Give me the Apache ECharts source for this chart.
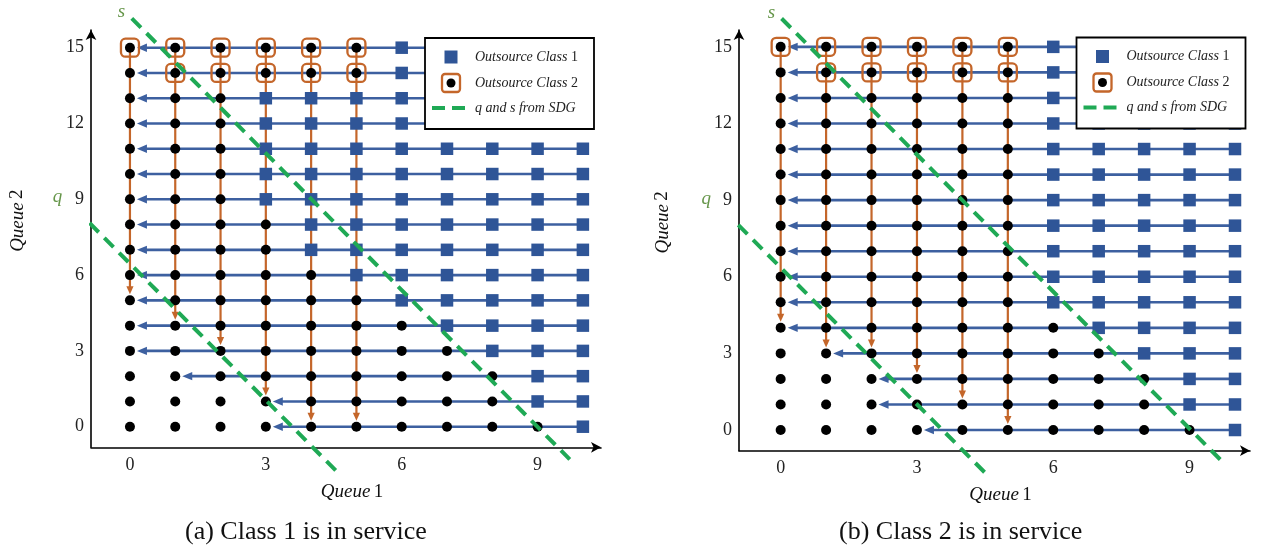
<!DOCTYPE html>
<html>
<head>
<meta charset="utf-8">
<script src="https://cdn.jsdelivr.net/npm/echarts@6/dist/echarts.min.js"></script>
<style>html,body{margin:0;padding:0;background:#fff}#chart{width:1264px;height:550px}</style>
</head>
<body>
<div id="chart"></div>
<script>
// ================= DATA =================
const queue1 = [0, 1, 2, 3, 4, 5, 6, 7, 8, 9, 10];
const queue2 = [0, 1, 2, 3, 4, 5, 6, 7, 8, 9, 10, 11, 12, 13, 14, 15];
const xTicks = [0, 3, 6, 9];
const yTicks = [0, 3, 6, 9, 12, 15];
const captions = ['(a) Class 1 is in service', '(b) Class 2 is in service'];
const legendNames = ['Outsource Class 1', 'Outsource Class 2', 'q and s from SDG'];

// Panel (a) — Class 1 in service
// per Queue 2 row (0..15): first Queue 1 value where Class 1 is outsourced
const class1FromA = [10, 9, 9, 8, 7, 6, 5, 4, 4, 3, 3, 3, 3, 3, 6, 6];
// states where Class 2 is outsourced [q1, q2]
const class2A = [[0,15],[1,15],[2,15],[3,15],[4,15],[5,15],[1,14],[2,14],[3,14],[4,14],[5,14]];
// horizontal (blue) transitions per row: from Queue1 = 10 to this value
const leftArrowEndA = [3, 3, 1, 0, 0, 0, 0, 0, 0, 0, 0, 0, 0, 0, 0, 0];
// vertical (orange) transitions: columns and their end rows (start at 15)
const downArrowColsA = [0, 1, 2, 3, 4, 5];
const downArrowEndA = [5, 4, 3, 1, 0, 0];
const sLineA = [[0.04, 16.16], [9.71, -1.29]];
const qLineA = [[-1.22, 8.65], [4.57, -1.78]];

// Panel (b) — Class 2 in service
const class1FromB = [10, 9, 9, 8, 7, 6, 6, 6, 6, 6, 6, 6, 6, 6, 6, 6];
const class2B = [[0,15],[1,15],[2,15],[3,15],[4,15],[5,15],[1,14],[2,14],[3,14],[4,14],[5,14]];
const leftArrowEndB = [3, 2, 2, 1, 0, 0, 0, 0, 0, 0, 0, 0, 0, 0, 0, 0];
const downArrowColsB = [0, 1, 2, 3, 4, 5];
const downArrowEndB = [4, 3, 3, 2, 1, 0];
const sLineB = [[0.02, 16.11], [9.70, -1.20]];
const qLineB = [[-1.26, 8.61], [4.57, -1.80]];

// ================= STYLE =================
const SERIF = 'Liberation Serif';
const C_BLUE_SQ = '#2F5597';
const C_BLUE_LN = '#3D60A0';
const C_ORANGE = '#C4662A';
const C_GREEN = '#1FA955';
const C_LABEL = '#66964A';

function pointsOf(class1From) {
  const dots = [], squares = [];
  queue2.forEach(y => queue1.forEach(x => {
    (x >= class1From[y] ? squares : dots).push([x, y]);
  }));
  return { dots, squares };
}
function hArrows(leftEnd) {
  return queue2.map(y => [queue1[queue1.length - 1], y, leftEnd[y], y]);
}
function vArrows(cols, ends) {
  const top = queue2[queue2.length - 1];
  return cols.map((x, i) => [x, top, x, ends[i]]);
}

function arrowSeries(items, gi, color, width, gap, head, hw, z) {
  return {
    type: 'custom', xAxisIndex: gi, yAxisIndex: gi, z: z, silent: true,
    data: items,
    renderItem: function (params, api) {
      const p1 = api.coord([api.value(0), api.value(1)]);
      const p2 = api.coord([api.value(2), api.value(3)]);
      const dx = p2[0] - p1[0], dy = p2[1] - p1[1];
      const L = Math.hypot(dx, dy) || 1;
      const ux = dx / L, uy = dy / L;
      const tip = [p2[0] - ux * gap, p2[1] - uy * gap];
      const base = [tip[0] - ux * head, tip[1] - uy * head];
      return {
        type: 'group',
        children: [
          { type: 'line', shape: { x1: p1[0], y1: p1[1], x2: base[0] + ux * 2, y2: base[1] + uy * 2 },
            style: { stroke: color, lineWidth: width } },
          { type: 'polygon',
            shape: { points: [tip, [base[0] - uy * hw, base[1] + ux * hw], [base[0] + uy * hw, base[1] - ux * hw]] },
            style: { fill: color } }
        ]
      };
    }
  };
}

function sdgSeries(pts, name, gi, dist, off) {
  return {
    type: 'line', xAxisIndex: gi, yAxisIndex: gi, data: pts, clip: false, z: 8, silent: true,
    symbol: 'circle', symbolSize: 1, showSymbol: true,
    itemStyle: { color: 'rgba(0,0,0,0)' },
    lineStyle: { color: C_GREEN, width: 4, type: [13, 8] },
    label: {
      show: true, formatter: p => (p.dataIndex === 0 ? name : ''),
      position: 'left', distance: dist, offset: off,
      color: C_LABEL, fontFamily: SERIF, fontStyle: 'italic', fontSize: 19
    }
  };
}

function panelSeries(gi, class1From, class2, leftEnd, dCols, dEnds, sLine, qLine, qDist, qOff) {
  const pts = pointsOf(class1From);
  return [
    arrowSeries(hArrows(leftEnd), gi, C_BLUE_LN, 2.6, 7, 10, 4.2, 2),
    arrowSeries(vArrows(dCols, dEnds), gi, C_ORANGE, 2.2, 6, 8, 3.6, 3),
    { type: 'scatter', xAxisIndex: gi, yAxisIndex: gi, z: 5, silent: true, data: pts.squares,
      symbol: 'rect', symbolSize: 12.5, itemStyle: { color: C_BLUE_SQ, opacity: 1 } },
    { type: 'scatter', xAxisIndex: gi, yAxisIndex: gi, z: 5, silent: true, data: pts.dots,
      symbol: 'circle', symbolSize: 10, itemStyle: { color: '#000', opacity: 1 } },
    { type: 'scatter', xAxisIndex: gi, yAxisIndex: gi, z: 6, silent: true, data: class2,
      symbol: 'roundRect', symbolSize: 18,
      itemStyle: { color: 'rgba(0,0,0,0)', borderColor: C_ORANGE, borderWidth: 2.3, opacity: 1 } },
    sdgSeries(sLine, 's', gi, 6, [0, -6]),
    sdgSeries(qLine, 'q', gi, qDist, qOff)
  ];
}

const nameRich = {
  i: { fontFamily: SERIF, fontStyle: 'italic', fontSize: 19, color: '#111' },
  n: { fontFamily: SERIF, fontSize: 19, color: '#111' }
};
const axisLineCfg = { show: true, onZero: false, symbol: ['none', 'arrow'], symbolSize: [8, 10],
  lineStyle: { color: '#000', width: 1.6 } };

function xAx(gi, min, max, qn) {
  return {
    gridIndex: gi, type: 'value', min: min, max: max,
    axisLine: axisLineCfg, axisTick: { show: false }, splitLine: { show: false },
    axisLabel: { customValues: xTicks, margin: 9, fontFamily: SERIF, fontSize: 18, color: '#222' },
    name: '{i|Queue} {n|' + qn + '}', nameLocation: 'middle', nameGap: 35,
    nameTextStyle: { rich: nameRich, padding: [0, 0, 0, 12] }
  };
}
function yAx(gi, min, max, qn, gap) {
  return {
    gridIndex: gi, type: 'value', min: min, max: max,
    axisLine: axisLineCfg, axisTick: { show: false }, splitLine: { show: false },
    axisLabel: { customValues: yTicks, margin: 7, fontFamily: SERIF, fontSize: 18, color: '#222' },
    name: '{i|Queue} {n|' + qn + '}', nameLocation: 'middle', nameGap: gap,
    nameTextStyle: { rich: nameRich, padding: [0, 0, 0, 36] }
  };
}

function legendGroup(x, y) {
  const txt = (t, cy) => ({
    type: 'text', x: 50, y: cy, z: 103,
    style: {
      text: t, verticalAlign: 'middle', fill: '#222',
      fontFamily: SERIF, fontStyle: 'italic', fontSize: 14,
      rich: {
        i: { fontFamily: SERIF, fontStyle: 'italic', fontSize: 14, fill: '#222' },
        n: { fontFamily: SERIF, fontSize: 14, fill: '#222' }
      }
    }
  });
  return {
    type: 'group', x: x, y: y, z: 100, silent: true,
    children: [
      { type: 'rect', z: 100, shape: { x: 0, y: 0, width: 169, height: 91 },
        style: { fill: '#fff', stroke: '#000', lineWidth: 1.8 } },
      { type: 'rect', z: 101, shape: { x: 19.5, y: 12.5, width: 13, height: 13 }, style: { fill: C_BLUE_SQ } },
      { type: 'rect', z: 101, shape: { x: 17, y: 36, width: 18, height: 18, r: 3 },
        style: { fill: 'none', stroke: C_ORANGE, lineWidth: 2.3 } },
      { type: 'circle', z: 102, shape: { cx: 26, cy: 45, r: 4.5 }, style: { fill: '#000' } },
      { type: 'line', z: 101, shape: { x1: 7, y1: 70, x2: 41, y2: 70 },
        style: { stroke: C_GREEN, lineWidth: 4, lineDash: [13, 7] } },
      txt('{i|Outsource Class} {n|1}', 19),
      txt('{i|Outsource Class} {n|2}', 45),
      txt('{i|q and s from SDG}', 70)
    ]
  };
}

const option = {
  animation: false,
  backgroundColor: '#fff',
  title: [
    { text: captions[0], left: 185, top: 519, padding: 0,
      textStyle: { fontFamily: SERIF, fontSize: 26, fontWeight: 'normal', color: '#111' } },
    { text: captions[1], left: 839, top: 519, padding: 0,
      textStyle: { fontFamily: SERIF, fontSize: 26, fontWeight: 'normal', color: '#111' } }
  ],
  grid: [
    { left: 91, top: 30, width: 510, height: 417.3, containLabel: false },
    { left: 739, top: 30, width: 511, height: 420.7, containLabel: false }
  ],
  xAxis: [xAx(0, -0.86, 10.4, 1), xAx(1, -0.917, 10.33, 1)],
  yAxis: [yAx(0, -0.815, 15.7, 2, 64), yAx(1, -0.81, 15.66, 2, 67)],
  series: [].concat(
    panelSeries(0, class1FromA, class2A, leftArrowEndA, downArrowColsA, downArrowEndA, sLineA, qLineA, 12, [0, -11]),
    panelSeries(1, class1FromB, class2B, leftArrowEndB, downArrowColsB, downArrowEndB, sLineB, qLineB, 12, [0, -11])
  ),
  graphic: { elements: [legendGroup(425, 38), legendGroup(1076.5, 37.5)] }
};

const chart = echarts.init(document.getElementById('chart'), null, { renderer: 'canvas' });
chart.setOption(option);
</script>
</body>
</html>
